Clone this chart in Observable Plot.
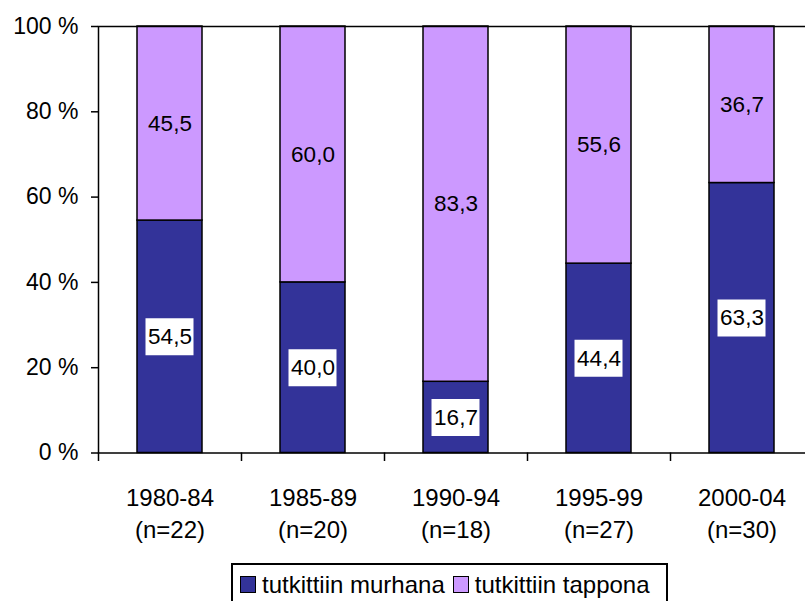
<!DOCTYPE html>
<html><head><meta charset="utf-8">
<script src="https://cdn.jsdelivr.net/npm/d3@7"></script>
<script src="https://cdn.jsdelivr.net/npm/@observablehq/plot@0.6"></script>
<style>
html,body{margin:0;padding:0;overflow:hidden;background:#fff;width:805px;height:601px}
#chart{position:absolute;left:0;top:0}
#chart svg{max-width:none !important;display:block}
#legend{position:absolute;left:231px;top:563px;height:60px;border:2px solid #000;box-sizing:border-box;padding:7.5px 8px 0 7px;
  font-family:'Liberation Sans',Arial,sans-serif;font-size:24px;line-height:23px;white-space:nowrap;color:#000;background:#fff}
#legend .sw{display:inline-block;width:14px;height:15px;border:1px solid #000;margin-right:6px;vertical-align:baseline}
#legend .item{margin-right:8px}
</style></head><body>
<div id="chart"></div>
<div id="legend"></div>
<script>
const periods = ["1980-84", "1985-89", "1990-94", "1995-99", "2000-04"];
const nValues = [22, 20, 18, 27, 30];
const seriesNames = ["tutkittiin murhana", "tutkittiin tappona"];
const murhana = [54.5, 40.0, 16.7, 44.4, 63.3];
const tappona = [45.5, 60.0, 83.3, 55.6, 36.7];
const yTicks = [0, 20, 40, 60, 80, 100];
const colors = ["#333399", "#CC99FF"];

const rows = periods.flatMap((p, i) => [
  {period: p, series: seriesNames[0], value: murhana[i]},
  {period: p, series: seriesNames[1], value: tappona[i]}
]);
const fmt = v => v.toFixed(1).replace(".", ",");
const catLabel = new Map(periods.map((p, i) => [p, `${p}\n(n=${nValues[i]})`]));
const FONT = "'Liberation Sans', Arial, sans-serif";

const chart = Plot.plot({
  width: 813, height: 555,
  marginLeft: 98, marginTop: 26, marginRight: 0, marginBottom: 102.5,
  style: {fontFamily: FONT, fontSize: "23px", color: "black", background: "white", overflow: "visible"},
  x: {domain: periods, paddingInner: 0.545, paddingOuter: 0.2725, axis: null},
  y: {domain: [0, 100], axis: null},
  color: {domain: seriesNames, range: colors},
  marks: [
    Plot.barY(rows, {x: "period", y: "value", fill: "series", stroke: "black", strokeWidth: 1.5}),
    Plot.tickY(rows.filter(d => d.series === seriesNames[0]),
      Plot.stackY({x: "period", y: "value", stroke: "white", strokeWidth: 37, inset: 8.5})),
    Plot.text(rows, Plot.stackY({x: "period", y: "value", text: d => fmt(d.value), fill: "black", fontSize: 22.5})),
    Plot.frame({stroke: "black", strokeWidth: 1.5}),
    Plot.axisY({ticks: yTicks, tickFormat: d => d + " %", tickSize: 7, tickPadding: 13, fontSize: 23, stroke: "black", strokeWidth: 1.5, label: null}),
    Plot.axisX({tickFormat: d => catLabel.get(d), tickSize: 0, tickPadding: 30, fontSize: 24, lineHeight: 1.333, label: null}),
    Plot.ruleX(periods, {x: d => d, dx: -71.5, y1: 0, y2: -2, stroke: "black", strokeWidth: 1.5})
  ]
});
document.getElementById("chart").appendChild(chart);

const legend = document.getElementById("legend");
seriesNames.forEach((name, i) => {
  const item = document.createElement("span");
  item.className = "item";
  const sw = document.createElement("span");
  sw.className = "sw";
  sw.style.background = colors[i];
  item.appendChild(sw);
  item.appendChild(document.createTextNode(name));
  legend.appendChild(item);
});
</script>
</body></html>
